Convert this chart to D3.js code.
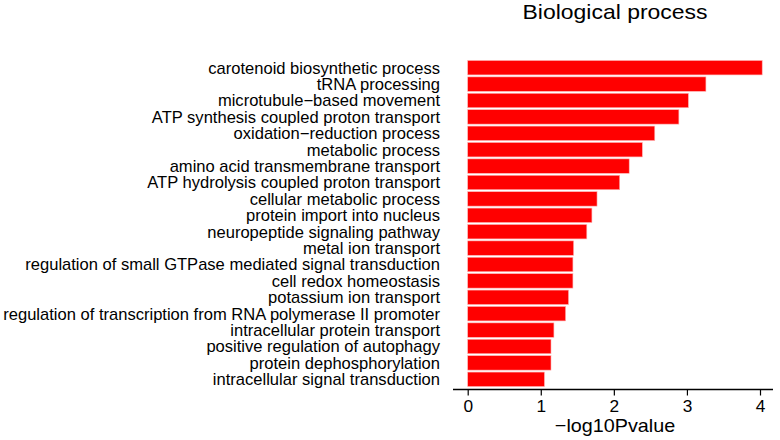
<!DOCTYPE html>
<html>
<head>
<meta charset="utf-8">
<script src="https://cdn.jsdelivr.net/npm/d3@7"></script>
<style>
  body { margin: 0; background: #fff; }
  text { font-family: "Liberation Sans", Arial, sans-serif; fill: #000; }
</style>
</head>
<body>
<svg id="chart" width="780" height="440"></svg>
<script>
const categories = [
  "carotenoid biosynthetic process",
  "tRNA processing",
  "microtubule\u2212based movement",
  "ATP synthesis coupled proton transport",
  "oxidation\u2212reduction process",
  "metabolic process",
  "amino acid transmembrane transport",
  "ATP hydrolysis coupled proton transport",
  "cellular metabolic process",
  "protein import into nucleus",
  "neuropeptide signaling pathway",
  "metal ion transport",
  "regulation of small GTPase mediated signal transduction",
  "cell redox homeostasis",
  "potassium ion transport",
  "regulation of transcription from RNA polymerase II promoter",
  "intracellular protein transport",
  "positive regulation of autophagy",
  "protein dephosphorylation",
  "intracellular signal transduction"
];
const values = [4.03, 3.26, 3.02, 2.89, 2.56, 2.39, 2.21, 2.08, 1.77, 1.70, 1.63, 1.45, 1.44, 1.44, 1.38, 1.34, 1.18, 1.14, 1.14, 1.05];
const xTicks = [0, 1, 2, 3, 4];
const title = "Biological process";
const xTitle = "\u2212log10Pvalue";

const svg = d3.select("#chart");
const x = d3.scaleLinear().domain([0, 4]).range([467.7, 760]);
const y = d3.scaleBand().domain(categories).range([60, 387]).paddingInner(0.12).paddingOuter(0.03);

svg.append("g").selectAll("rect")
  .data(categories)
  .join("rect")
  .attr("x", x(0))
  .attr("y", d => y(d))
  .attr("width", (d, i) => x(values[i]) - x(0))
  .attr("height", y.bandwidth())
  .attr("fill", "#ff0000")
  .attr("stroke", "#ffb3b3")
  .attr("stroke-width", 0.6);

// category labels (slightly wide glyphs as in the reference)
svg.append("g")
  .attr("transform", "translate(440,0) scale(1.035,1)")
  .selectAll("text")
  .data(categories)
  .join("text")
  .attr("x", 0)
  .attr("y", d => y(d) + y.bandwidth() / 2)
  .attr("dy", "0.37em")
  .attr("text-anchor", "end")
  .style("font-size", "16px")
  .text(d => d);

const axis = d3.axisBottom(x).tickValues(xTicks).tickSize(6).tickPadding(4).tickFormat(d3.format("d"));
const gx = svg.append("g").attr("transform", "translate(0,389.5)").call(axis);
gx.select(".domain").attr("d", "M453,0H773").attr("stroke", "#000").attr("stroke-width", 1.5);
gx.selectAll(".tick line").attr("stroke", "#000").attr("stroke-width", 1.2);
gx.selectAll(".tick text").remove();
gx.selectAll(".tick").append("text")
  .attr("transform", "translate(0,22.3) scale(1.08,1)")
  .attr("text-anchor", "middle")
  .style("font-size", "16px")
  .style("font-family", "'Liberation Sans', Arial, sans-serif")
  .attr("fill", "#000")
  .text(d => d3.format("d")(d));

svg.append("text")
  .attr("transform", "translate(615,432.3) scale(1.04,1)")
  .attr("text-anchor", "middle")
  .style("font-size", "19px")
  .text(xTitle);

svg.append("text")
  .attr("transform", "translate(615,18.5) scale(1.12,1)")
  .attr("text-anchor", "middle")
  .style("font-size", "20.5px")
  .text(title);
</script>
</body>
</html>
